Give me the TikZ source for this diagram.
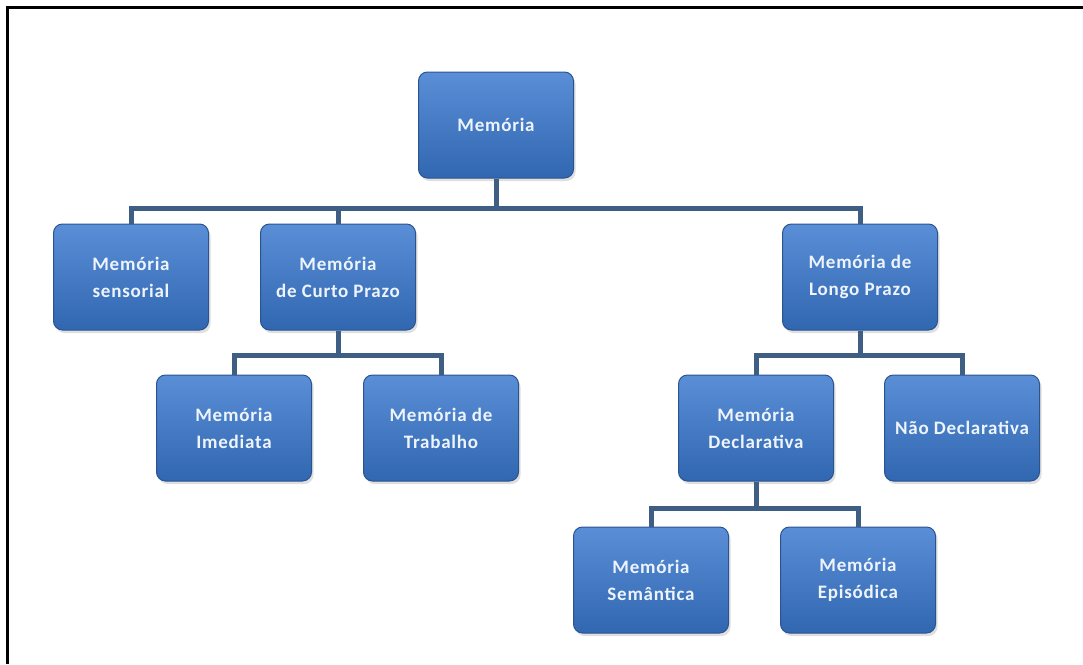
\documentclass[tikz,border=0pt]{standalone}
\usepackage{fontspec}
\setmainfont{Carlito}[LetterSpace=4]
\usepackage{xcolor}
\usepackage{tikz}
\usetikzlibrary{positioning,shadows}
\definecolor{boxtop}{HTML}{5A8FD8}
\definecolor{boxbot}{HTML}{3166B0}
\definecolor{boxline}{HTML}{2A5490}
\definecolor{linkcol}{HTML}{3E5E84}
\definecolor{memtext}{HTML}{EEF4FC}

\begin{document}
\begin{tikzpicture}[x=1pt, y=-1pt, font=\bfseries\fontsize{19}{27}\selectfont,
	mem/.style={draw=boxline, line width=1pt, rounded corners=9pt, top color=boxtop, bottom color=boxbot, text=memtext, minimum width=155pt, minimum height=106pt, align=center, drop shadow={opacity=0.25, shadow xshift=2pt, shadow yshift=-3pt}},
	link/.style={draw=linkcol, line width=5pt}]
		\useasboundingbox (0,0) rectangle (1083,664);
		\draw[line width=3pt] (7,664) -- (7,7) -- (1083,7);
		\node[mem] (root) at (496,125) {Memória};
		\node[mem] (sens) at (131,277) {Memória\\sensorial};
		\node[mem] (curto) at (338,277) {Memória\\de Curto Prazo};
		\node[mem] (longo) at (860,277) {Memória de\\Longo Prazo};
		\node[mem] (imed) at (234,428) {Memória\\Imediata};
		\node[mem] (trab) at (441,428) {Memória de\\Trabalho};
		\node[mem] (decl) at (756,428) {Memória\\Declarativa};
		\node[mem] (nao) at (962,428) {Não Declarativa};
		\node[mem] (sem) at (651,580) {Memória\\Semântica};
		\node[mem] (epi) at (858,580) {Memória\\Episódica};
		\coordinate (bar1) at (496,208);
		\coordinate (bar2) at (338,355);
		\coordinate (bar3) at (860,355);
		\coordinate (bar4) at (756,508);
		\draw[link] (root.south) -- (bar1) -| (sens.north);
		\draw[link] (bar1) -| (curto.north);
		\draw[link] (bar1) -| (longo.north);
		\draw[link] (curto.south) -- (bar2) -| (imed.north);
		\draw[link] (bar2) -| (trab.north);
		\draw[link] (longo.south) -- (bar3) -| (decl.north);
		\draw[link] (bar3) -| (nao.north);
		\draw[link] (decl.south) -- (bar4) -| (sem.north);
		\draw[link] (bar4) -| (epi.north);
	\end{tikzpicture}
\end{document}
